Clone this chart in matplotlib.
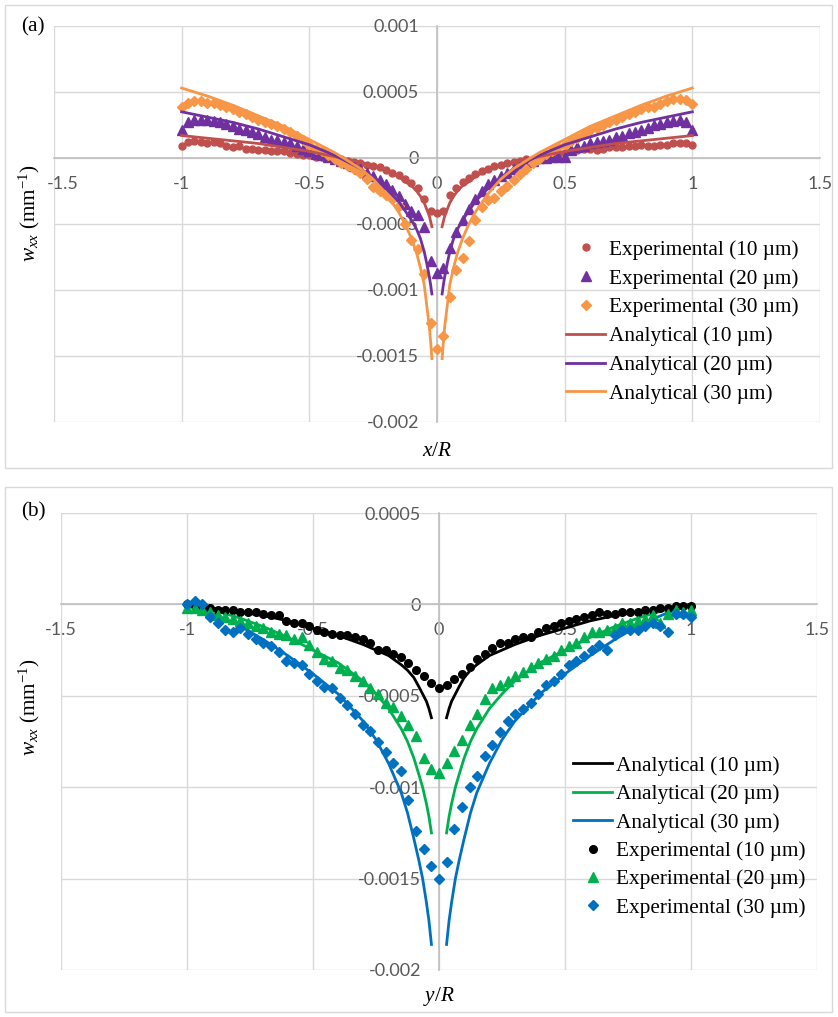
import numpy as np
import matplotlib
matplotlib.use('Agg')
import matplotlib.pyplot as plt
import matplotlib.transforms as mtransforms
from matplotlib.patches import Rectangle

plt.rcParams['font.family'] = 'Lato'
plt.rcParams['axes.unicode_minus'] = False
plt.rcParams['mathtext.fontset'] = 'custom'
plt.rcParams['mathtext.rm'] = 'Liberation Serif'
plt.rcParams['mathtext.it'] = 'Liberation Serif:italic'

SERIF = 'Liberation Serif'
TXT = 15.3

# ---- panel (a): w_xx along x/R ----
xa = np.linspace(-1, 1, 81)
exp10_a = [0.00009, 0.00012, 0.00013, 0.00012, 0.00011, 0.00012, 0.00011, 0.00009, 0.00008, 0.00009,
           0.00007, 0.00007, 0.00006, 0.00006, 0.00005, 0.00005, 0.00005, 0.00004, 0.00003, 0.00002,
           0.00002, 0.00001, 0.00001, 0.0, -0.00001, -0.00001, -0.00002, -0.00003, -0.00004, -0.00005,
           -0.00006, -0.00007, -0.00009, -0.00011, -0.00013, -0.00016, -0.00019, -0.00023, -0.00031, -0.00040,
           -0.00042,
           -0.00040, -0.00028, -0.00023, -0.00018, -0.00015, -0.00012, -0.00010, -0.00008, -0.00006, -0.00005,
           -0.00004, -0.00003, -0.00002, -0.00001, -0.00001, 0.0, 0.00001, 0.00002, 0.00003, 0.00004,
           0.00005, 0.00006, 0.00007, 0.00007, 0.00006, 0.00007, 0.00008, 0.00008, 0.00008, 0.00009,
           0.00009, 0.00010, 0.00009, 0.00009, 0.00010, 0.00010, 0.00011, 0.00011, 0.00011, 0.00010]
exp20_a = [0.00021, 0.00027, 0.00029, 0.00029, 0.00029, 0.00028, 0.00027, 0.00026, 0.00024, 0.00022,
           0.00021, 0.00020, 0.00018, 0.00016, 0.00014, 0.00014, 0.00012, 0.00011, 0.00009, 0.00007,
           0.00005, 0.00003, 0.00002, 0.00001, -0.00001, -0.00002, -0.00004, -0.00006, -0.00008, -0.00011,
           -0.00014, -0.00017, -0.00020, -0.00024, -0.00029, -0.00035, -0.00040, -0.00043, -0.00052, -0.00078,
           -0.00087,
           -0.00083, -0.00068, -0.00056, -0.00047, -0.00039, -0.00031, -0.00025, -0.00020, -0.00017, -0.00014,
           -0.00011, -0.00008, -0.00006, -0.00003, -0.00002, 0.0, 0.0, 0.00001, 0.00001, 0.00001,
           0.00006, 0.00008, 0.00009, 0.00011, 0.00012, 0.00013, 0.00014, 0.00016, 0.00017, 0.00019,
           0.00020, 0.00021, 0.00023, 0.00025, 0.00026, 0.00027, 0.00028, 0.00029, 0.00027, 0.00021]
exp30_a = [0.00039, 0.00042, 0.00043, 0.00043, 0.00042, 0.00042, 0.00040, 0.00039, 0.00037, 0.00035,
           0.00033, 0.00031, 0.00029, 0.00027, 0.00026, 0.00024, 0.00022, 0.00020, 0.00017, 0.00014,
           0.00010, 0.00007, 0.00005, 0.00002, -0.00001, -0.00004, -0.00006, -0.00008, -0.00011, -0.00016,
           -0.00022, -0.00025, -0.00028, -0.00031, -0.00036, -0.00050, -0.00062, -0.00069, -0.00088, -0.00125,
           -0.00145,
           -0.00135, -0.00105, -0.00085, -0.00076, -0.00063, -0.00047, -0.00037, -0.00032, -0.00030, -0.00025,
           -0.00021, -0.00017, -0.00012, -0.00008, -0.00004, -0.00001, 0.00003, 0.00005, 0.00008, 0.00010,
           0.00013, 0.00015, 0.00018, 0.00021, 0.00023, 0.00025, 0.00027, 0.00029, 0.00031, 0.00033,
           0.00035, 0.00037, 0.00039, 0.00039, 0.00041, 0.00043, 0.00045, 0.00045, 0.00044, 0.00041]

# analytical curves, symmetric about the centre (right half listed)
xr_a = np.array([0.02, 0.025, 0.03, 0.04, 0.05, 0.065, 0.08, 0.1, 0.125, 0.15,
                 0.2, 0.25, 0.3, 0.4, 0.5, 0.6, 0.7, 0.8, 0.9, 1.0])
ana10_a = [-0.00052, -0.00048, -0.00044, -0.00039, -0.00034, -0.00029, -0.00025, -0.00021, -0.00018, -0.00014,
           -0.00009, -0.00006, -0.00003, 0.00001, 0.00005, 0.00008, 0.00011, 0.00013, 0.00015, 0.00017]
ana20_a = [-0.00103, -0.00096, -0.00090, -0.00080, -0.00071, -0.00061, -0.00054, -0.00047, -0.00040, -0.00033,
           -0.00023, -0.00015, -0.00008, 0.00002, 0.00010, 0.00016, 0.00022, 0.00027, 0.00031, 0.00035]
ana30_a = [-0.00152, -0.00139, -0.00128, -0.00112, -0.00096, -0.00083, -0.00072, -0.00061, -0.00050, -0.00041,
           -0.00027, -0.00016, -0.00008, 0.00004, 0.00014, 0.00024, 0.00032, 0.00040, 0.00047, 0.00053]

# ---- panel (b): w_xx along y/R ----
xb = np.linspace(-1, 1, 67)
exp10_b = [0.0, -0.00001, -0.00001, -0.00002, -0.00003, -0.00003, -0.00003, -0.00004, -0.00004, -0.00004,
           -0.00005, -0.00006, -0.00006, -0.00009, -0.00010, -0.00010, -0.00012, -0.00014, -0.00015, -0.00016,
           -0.00017, -0.00017, -0.00018, -0.00019, -0.00021, -0.00025, -0.00025, -0.00027, -0.00029, -0.00032,
           -0.00036, -0.00039, -0.00043,
           -0.00046,
           -0.00044, -0.00041, -0.00038, -0.00034, -0.00030, -0.00027, -0.00024, -0.00021, -0.00021, -0.00019,
           -0.00018, -0.00018, -0.00015, -0.00013, -0.00012, -0.00010, -0.00009, -0.00008, -0.00007, -0.00006,
           -0.00004, -0.00005, -0.00005, -0.00004, -0.00004, -0.00004, -0.00003, -0.00003, -0.00002, -0.00002,
           -0.00001, -0.00001, -0.00001]
exp20_b = [-0.00002, -0.00002, -0.00003, -0.00004, -0.00006, -0.00007, -0.00008, -0.00009, -0.00010, -0.00012,
           -0.00013, -0.00015, -0.00016, -0.00017, -0.00019, -0.00018, -0.00022, -0.00026, -0.00030, -0.00031,
           -0.00035, -0.00036, -0.00039, -0.00042, -0.00046, -0.00049, -0.00054, -0.00056, -0.00061, -0.00066,
           -0.00072, -0.00084, -0.00090,
           -0.00092,
           -0.00087, -0.00080, -0.00074, -0.00066, -0.00060, -0.00052, -0.00046, -0.00044, -0.00042, -0.00039,
           -0.00037, -0.00034, -0.00032, -0.00030, -0.00028, -0.00025, -0.00023, -0.00021, -0.00018, -0.00015,
           -0.00015, -0.00014, -0.00013, -0.00010, -0.00010, -0.00009, -0.00008, -0.00006, -0.00010, -0.00005,
           -0.00003, -0.00004, -0.00003]
exp30_b = [0.0, 0.00002, 0.0, -0.00007, -0.00010, -0.00014, -0.00015, -0.00013, -0.00016, -0.00019,
           -0.00021, -0.00023, -0.00026, -0.00031, -0.00032, -0.00033, -0.00038, -0.00042, -0.00045, -0.00046,
           -0.00051, -0.00055, -0.00060, -0.00066, -0.00069, -0.00075, -0.00081, -0.00087, -0.00091, -0.00107,
           -0.00124, -0.00134, -0.00143,
           -0.00150,
           -0.00141, -0.00123, -0.00111, -0.00100, -0.00094, -0.00083, -0.00077, -0.00070, -0.00064, -0.00060,
           -0.00057, -0.00054, -0.00049, -0.00044, -0.00042, -0.00038, -0.00033, -0.00031, -0.00028, -0.00025,
           -0.00022, -0.00025, -0.00017, -0.00014, -0.00014, -0.00014, -0.00012, -0.00010, -0.00012, -0.00015,
           -0.00005, -0.00005, -0.00007]

xr_b = np.array([0.03, 0.04, 0.05, 0.065, 0.08, 0.1, 0.125, 0.15, 0.2, 0.25,
                 0.3, 0.4, 0.5, 0.6, 0.7, 0.8, 0.9, 1.0])
ana10_b = [-0.00062, -0.00057, -0.00053, -0.00049, -0.00045, -0.00040, -0.00036, -0.00033, -0.00028, -0.00025,
           -0.00022, -0.00017, -0.00013, -0.00009, -0.00006, -0.00004, -0.00002, 0.0]
ana20_b = [-0.00125, -0.00116, -0.00109, -0.00100, -0.00093, -0.00084, -0.00075, -0.00068, -0.00057, -0.00049,
           -0.00042, -0.00032, -0.00025, -0.00018, -0.00012, -0.00007, -0.00003, 0.0]
ana30_b = [-0.00186, -0.00173, -0.00163, -0.00150, -0.00140, -0.00128, -0.00114, -0.00103, -0.00087, -0.00074,
           -0.00064, -0.00049, -0.00038, -0.00028, -0.00019, -0.00011, -0.00005, 0.0]

labels_exp = ['Experimental (10 \u00b5m)', 'Experimental (20 \u00b5m)', 'Experimental (30 \u00b5m)']
labels_ana = ['Analytical (10 \u00b5m)', 'Analytical (20 \u00b5m)', 'Analytical (30 \u00b5m)']

W, H = 838, 1017
fig = plt.figure(figsize=(W / 100, H / 100), dpi=100)


def fx(px):
    return px / W


def fy(py):
    return 1 - py / H


def style_axes(ax, ylim, yticks):
    ax.set_xlim(-1.5, 1.5)
    ax.set_ylim(*ylim)
    ax.set_xticks([-1.5, -1, -0.5, 0, 0.5, 1, 1.5])
    ax.set_yticks(yticks)
    ax.xaxis.set_major_formatter(lambda v, p: f'{v:g}')
    ax.yaxis.set_major_formatter(lambda v, p: f'{round(v, 6):g}')
    for s in ['top', 'right']:
        ax.spines[s].set_visible(False)
    for s in ['left', 'bottom']:
        ax.spines[s].set_position(('data', 0))
        ax.spines[s].set_color('#BFBFBF')
        ax.spines[s].set_linewidth(1.2)
        ax.spines[s].set_zorder(1)
    ax.tick_params(length=0, pad=13, labelsize=13, labelcolor='#595959')
    ax.grid(True, color='#D9D9D9', lw=1)
    ax.set_axisbelow(True)
    ax.patch.set_alpha(0)


def panel_frame(x0, y0, x1, y1):
    fig.patches.append(Rectangle((fx(x0), fy(y1)), fx(x1) - fx(x0), fy(y0) - fy(y1),
                                 transform=fig.transFigure, fill=False,
                                 edgecolor='#D9D9D9', lw=1))


panel_frame(5, 5, 832, 468)
panel_frame(5, 487, 832, 1012)

# (a)
ax1 = fig.add_axes([fx(54), fy(422), fx(820) - fx(54), fy(26) - fy(422)])
style_axes(ax1, (-0.002, 0.001), [-0.002, -0.0015, -0.001, -0.0005, 0, 0.0005, 0.001])

# nudge the left-most x label inward, clear of the axis title
first = ax1.xaxis.get_major_ticks()[0].label1
first.set_transform(first.get_transform() +
                    mtransforms.ScaledTranslation(6 / 72, 0, fig.dpi_scale_trans))

cols_a = ['#C0504D', '#7030A0', '#F79646']
mk_a = [('o', 5), ('^', 6.5), ('D', 5)]
handles = []
for y, c, (m, ms), lab in zip([exp10_a, exp20_a, exp30_a], cols_a, mk_a, labels_exp):
    h, = ax1.plot(xa, y, ls='none', marker=m, ms=ms, color=c, mec=c, label=lab)
    handles.append(h)
for y, c, lab in zip([ana10_a, ana20_a, ana30_a], cols_a, labels_ana):
    h, = ax1.plot(xr_a, y, color=c, lw=2, label=lab)
    ax1.plot(-xr_a, y, color=c, lw=2)
    handles.append(h)

ax1.legend(handles=handles, loc='upper left', bbox_to_anchor=(fx(566), fy(240)),
           bbox_transform=fig.transFigure, frameon=False, borderpad=0, borderaxespad=0,
           handlelength=1.85, handletextpad=0.15, labelspacing=0.42, numpoints=1,
           prop={'family': SERIF, 'size': TXT})

# (b)
ax2 = fig.add_axes([fx(61), fy(970), fx(817) - fx(61), fy(513) - fy(970)])
style_axes(ax2, (-0.002, 0.0005), [-0.002, -0.0015, -0.001, -0.0005, 0, 0.0005])

cols_b = ['#000000', '#00B050', '#0070C0']
mk_b = [('o', 5.5), ('^', 6.5), ('D', 5.5)]
handles = []
for y, c, lab in zip([ana10_b, ana20_b, ana30_b], cols_b, labels_ana):
    h, = ax2.plot(xr_b, y, color=c, lw=2, label=lab)
    ax2.plot(-xr_b, y, color=c, lw=2)
    handles.append(h)
for y, c, (m, ms), lab in zip([exp10_b, exp20_b, exp30_b], cols_b, mk_b, labels_exp):
    h, = ax2.plot(xb, y, ls='none', marker=m, ms=ms, color=c, mec=c, label=lab)
    handles.append(h)

ax2.legend(handles=handles, loc='upper left', bbox_to_anchor=(fx(573), fy(756)),
           bbox_transform=fig.transFigure, frameon=False, borderpad=0, borderaxespad=0,
           handlelength=1.85, handletextpad=0.15, labelspacing=0.40, numpoints=1,
           prop={'family': SERIF, 'size': TXT})

# panel letters and axis titles
fig.text(fx(21), fy(27), '(a)', family=SERIF, size=TXT, va='center', ha='left')
fig.text(fx(21), fy(512), '(b)', family=SERIF, size=TXT, va='center', ha='left')
ylab = r'$w_{xx}$ (mm$^{-1}$)'
fig.text(fx(29), fy(213), ylab, family=SERIF, size=TXT, rotation=90, va='center', ha='center')
fig.text(fx(29), fy(707), ylab, family=SERIF, size=TXT, rotation=90, va='center', ha='center')
fig.text(fx(437), fy(450), r'$x/R$', size=TXT, va='center', ha='center')
fig.text(fx(439), fy(997), r'$y/R$', size=TXT, va='center', ha='center')

fig.savefig('out.png', dpi=100)
